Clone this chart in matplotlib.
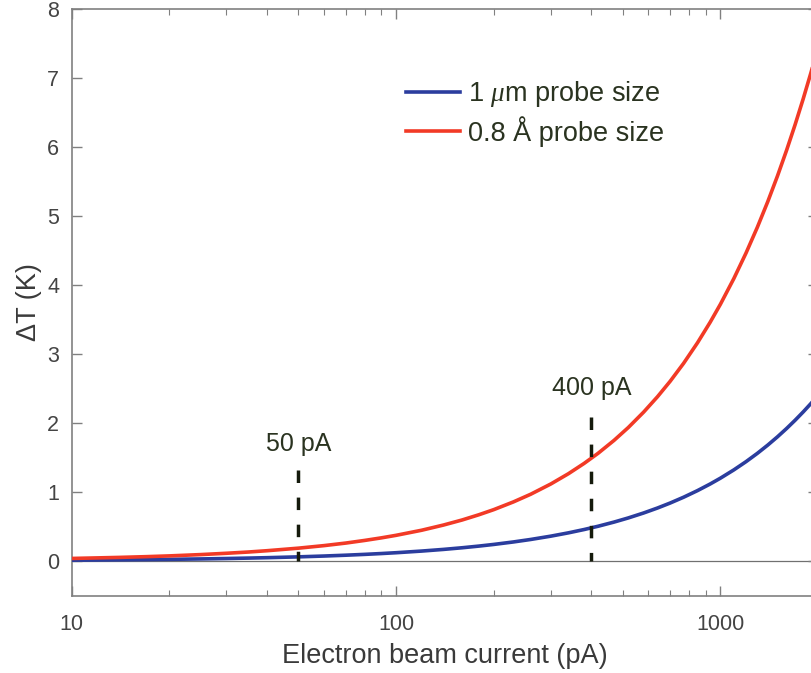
import matplotlib
matplotlib.use("Agg")
import matplotlib.pyplot as plt
from matplotlib.ticker import FixedLocator, LogLocator, NullFormatter, FixedFormatter

plt.rcParams['font.family'] = ['Liberation Sans', 'DejaVu Sans']
plt.rcParams['mathtext.fontset'] = 'custom'
plt.rcParams['mathtext.it'] = 'Liberation Serif:italic'
plt.rcParams['mathtext.rm'] = 'Liberation Sans'

# Data
current_pA = [10, 12, 14, 17, 20, 25, 30, 35, 40, 50, 60, 70, 80, 90, 100, 120, 140, 160,
              180, 200, 230, 260, 300, 340, 380, 420, 470, 520, 580, 640, 700, 770, 850,
              930, 1000, 1100, 1200, 1300, 1400, 1500, 1600, 1700, 1800, 1900, 2000]
dT_angstrom = [0.037, 0.045, 0.052, 0.063, 0.074, 0.093, 0.112, 0.130, 0.149, 0.186,
               0.223, 0.260, 0.298, 0.335, 0.372, 0.446, 0.521, 0.595, 0.670, 0.744,
               0.856, 0.967, 1.116, 1.265, 1.414, 1.562, 1.748, 1.934, 2.158, 2.381,
               2.604, 2.864, 3.162, 3.460, 3.720, 4.092, 4.464, 4.836, 5.208, 5.580,
               5.952, 6.324, 6.696, 7.068, 7.440]
dT_micron = [0.012, 0.0144, 0.0168, 0.0204, 0.024, 0.030, 0.036, 0.042, 0.048, 0.060,
             0.072, 0.084, 0.096, 0.108, 0.120, 0.144, 0.168, 0.192, 0.216, 0.240,
             0.276, 0.312, 0.360, 0.408, 0.456, 0.504, 0.564, 0.624, 0.696, 0.768,
             0.840, 0.924, 1.020, 1.116, 1.200, 1.320, 1.440, 1.560, 1.680, 1.800,
             1.920, 2.040, 2.160, 2.280, 2.400]
series_labels = [r"1 $\mu$m probe size", "0.8 Å probe size"]
marker_currents = [50, 400]
marker_tops = [1.32, 2.09]
marker_labels = ["50 pA", "400 pA"]
marker_label_y = [1.7, 2.5]
xtick_values = [10, 100, 1000]
xtick_labels = ["10", "100", "1000"]
ytick_values = [0, 1, 2, 3, 4, 5, 6, 7, 8]

W, H = 811, 673
fig = plt.figure(figsize=(W / 100, H / 100), dpi=100)
left_px, right_px, top_px, bottom_px = 71.7, 818.0, 9.0, 595.5
ax = fig.add_axes([left_px / W, 1 - bottom_px / H, (right_px - left_px) / W, (bottom_px - top_px) / H])

blue = '#2b3d9e'
red = '#f23a26'
textc = '#2a3320'
spinec = '#808080'

ax.axhline(0, color='#707070', lw=0.9, zorder=1)
l1, = ax.plot(current_pA, dT_micron, color=blue, lw=2.6, label=series_labels[0], zorder=3)
l2, = ax.plot(current_pA, dT_angstrom, color=red, lw=2.6, label=series_labels[1], zorder=3)

for xc, top, lab, ly in zip(marker_currents, marker_tops, marker_labels, marker_label_y):
    ax.plot([xc, xc], [top, 0], color='#151a0c', lw=2.5, dashes=(3.6, 4.2), zorder=4)
    ax.text(xc, ly, lab, ha='center', va='center', fontsize=18, color=textc)

ax.set_xscale('log')
ax.set_xlim(10, 2000)
ax.set_ylim(-0.5, 8)
ax.xaxis.set_major_locator(FixedLocator(xtick_values))
ax.xaxis.set_major_formatter(FixedFormatter(xtick_labels))
ax.xaxis.set_minor_locator(LogLocator(base=10, subs=range(2, 10)))
ax.xaxis.set_minor_formatter(NullFormatter())
ax.yaxis.set_major_locator(FixedLocator(ytick_values))

for s in ax.spines.values():
    s.set_color(spinec)
    s.set_linewidth(1.2)
ax.tick_params(which='both', direction='in', top=True, right=True, color=spinec,
               labelcolor='#444444', labelsize=15.5)
ax.tick_params(which='major', length=7, width=1.0)
ax.tick_params(which='minor', length=4, width=0.8)
ax.tick_params(axis='x', which='major', pad=13)
ax.tick_params(axis='y', which='major', pad=9)

ax.set_xlabel("Electron beam current (pA)", fontsize=19.5, color='#3a3a3a', labelpad=6)
ax.set_ylabel("ΔT (K)", fontsize=19.5, color='#3a3a3a', labelpad=4)

leg = fig.legend(handles=[l1, l2], loc='upper left',
                 bbox_to_anchor=(406 / W, 1 - 79 / H), frameon=False,
                 fontsize=19.5, handlelength=2.0, handletextpad=0.3,
                 labelspacing=0.25, borderpad=0, borderaxespad=0)
for t in leg.get_texts():
    t.set_color(textc)

fig.savefig("out.png", dpi=100)
